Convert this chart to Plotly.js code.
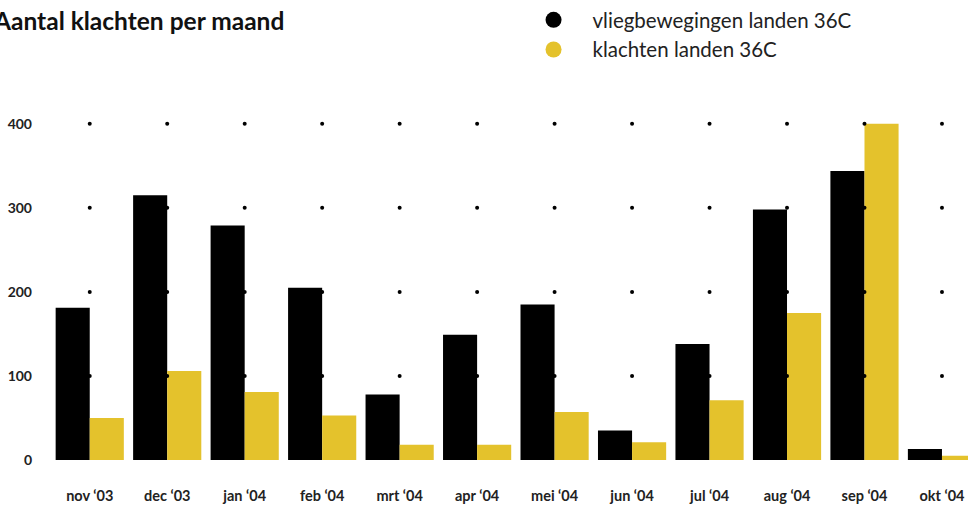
<!DOCTYPE html>
<html>
<head>
<meta charset="utf-8">
<script src="https://cdn.plot.ly/plotly-3.0.1.min.js"></script>
<style>html,body{margin:0;padding:0;background:#fff;}#chart{width:968px;height:506px;}</style>
</head>
<body>
<div id="chart"></div>
<script>
const months = ["nov ‘03","dec ‘03","jan ‘04","feb ‘04","mrt ‘04","apr ‘04","mei ‘04","jun ‘04","jul ‘04","aug ‘04","sep ‘04","okt ‘04"];
const vliegbewegingen = [181, 315, 279, 205, 78, 149, 185, 35, 138, 298, 344, 13];
const klachten = [50, 106, 81, 53, 18, 18, 57, 21, 71, 175, 400, 5];
const gridLevels = [100, 200, 300, 400];
const seriesNames = ["vliegbewegingen landen 36C", "klachten landen 36C"];
const colors = ["#000000", "#E4C22C"];

const dotX = [], dotY = [];
months.forEach(m => gridLevels.forEach(l => { dotX.push(m); dotY.push(l); }));

const font = "Lato, 'Open Sans', sans-serif";

const traces = [
  {type:"bar", x:months, y:vliegbewegingen, marker:{color:colors[0]}, showlegend:false, hoverinfo:"y"},
  {type:"bar", x:months, y:klachten, marker:{color:colors[1]}, showlegend:false, hoverinfo:"y"},
  {type:"scatter", mode:"markers", x:dotX, y:dotY, marker:{color:"#000", size:4}, showlegend:false, hoverinfo:"skip"},
  {type:"scatter", mode:"markers", x:[null], y:[null], name:seriesNames[0], marker:{color:colors[0], size:16, symbol:"circle"}},
  {type:"scatter", mode:"markers", x:[null], y:[null], name:seriesNames[1], marker:{color:colors[1], size:16, symbol:"circle"}}
];

const layout = {
  width:968, height:506,
  margin:{l:51, r:0, t:107, b:46},
  paper_bgcolor:"#fff", plot_bgcolor:"#fff",
  barmode:"group", bargap:0.12, bargroupgap:0,
  font:{family:font, color:"#222"},
  xaxis:{type:"category", range:[-0.5, 11.336], showgrid:false, zeroline:false, showline:false,
         ticks:"", ticklabelstandoff:25, tickfont:{family:font, size:14.5, color:"#222", weight:"bold"}, fixedrange:true},
  yaxis:{range:[0, 420], tickvals:[0,100,200,300,400], showgrid:false, zeroline:false, showline:false,
         ticks:"", ticklabelstandoff:18, tickfont:{family:font, size:14, color:"#222", weight:"bold"}, fixedrange:true},
  legend:{x:0.5055, xanchor:"left", y:1.006, yref:"container", yanchor:"top", itemwidth:68,
          font:{family:font, size:20.5, color:"#222"}, bgcolor:"rgba(0,0,0,0)", tracegroupgap:0},
  annotations:[{text:"<b>Aantal klachten per maand</b>", xref:"paper", yref:"paper", x:(286-51)/917, xanchor:"right",
                y:(460-21)/353, yanchor:"middle", showarrow:false, font:{family:font, size:24.5, color:"#111"}}]
};

Plotly.newPlot("chart", traces, layout, {displayModeBar:false, staticPlot:true});
</script>
</body>
</html>
